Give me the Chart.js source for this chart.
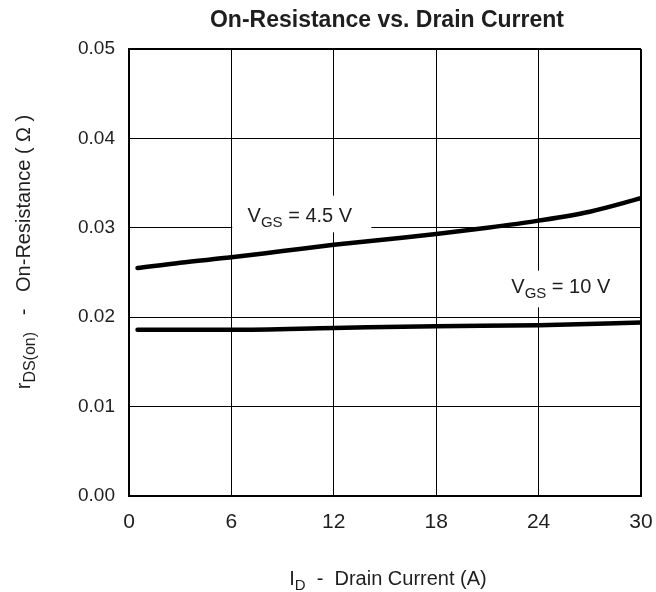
<!DOCTYPE html>
<html>
<head>
<meta charset="utf-8">
<script src="https://cdn.jsdelivr.net/npm/chart.js@4/dist/chart.umd.min.js"></script>
<style>
  html, body { margin: 0; padding: 0; background: #fff; }
  #wrap { width: 656px; height: 592px; }
</style>
</head>
<body>
<div id="wrap"><canvas id="chart" width="656" height="592"></canvas></div>
<script>
//Dados
const drainCurrent45 = [0.5, 3, 6, 9, 12, 15, 18, 21, 24, 27, 30];
const rdsOn45 = [0.0255, 0.0261, 0.0267, 0.0274, 0.0281, 0.0287, 0.0293, 0.0300, 0.0308, 0.0318, 0.0333];

const drainCurrent10 = [0.5, 6, 12, 18, 24, 30];
const rdsOn10 = [0.0186, 0.0186, 0.0188, 0.0190, 0.0191, 0.0194];

const xTicks = [0, 6, 12, 18, 24, 30];
const yTicks = [0.00, 0.01, 0.02, 0.03, 0.04, 0.05];

const FONT = '"Liberation Sans", Arial, Helvetica, sans-serif';
const TXT = '#1e1e1e';

function toPoints(xs, ys) {
    return xs.map((x, i) => ({ x: x, y: ys[i] }));
}

//Texto com subscrito (ex.: V_GS)
function drawSub(c, x, y, main, sub, rest, size, subSize) {
    c.font = size + 'px ' + FONT;
    c.fillText(main, x, y);
    x += c.measureText(main).width;
    c.font = subSize + 'px ' + FONT;
    c.fillText(sub, x, y + size * 0.25);
    x += c.measureText(sub).width;
    c.font = size + 'px ' + FONT;
    c.fillText(rest, x, y);
}

function subWidth(c, main, sub, rest, size, subSize) {
    c.font = size + 'px ' + FONT;
    let w = c.measureText(main).width + c.measureText(rest).width;
    c.font = subSize + 'px ' + FONT;
    return w + c.measureText(sub).width;
}

//Rótulos das curvas: posição do texto e caixa branca (em unidades dos eixos)
const curveLabels = [
    { sub: 'GS', rest: ' = 4.5 V', x: 6.95, y: 0.0306, box: [6.05, 14.2, 0.0295, 0.0336] },
    { sub: 'GS', rest: ' = 10 V', x: 22.4, y: 0.0227, box: [22.0, 28.8, 0.0211, 0.0252] }
];

const textPlugin = {
    id: 'textPlugin',
    beforeDatasetsDraw(chart) {
        const c = chart.ctx, xs = chart.scales.x, ys = chart.scales.y;
        c.save();
        c.fillStyle = '#fff';
        curveLabels.forEach(l => {
            const x0 = xs.getPixelForValue(l.box[0]), x1 = xs.getPixelForValue(l.box[1]);
            const y0 = ys.getPixelForValue(l.box[3]), y1 = ys.getPixelForValue(l.box[2]);
            c.fillRect(x0, y0, x1 - x0, y1 - y0);
        });
        c.restore();
    },
    afterDraw(chart) {
        const c = chart.ctx, a = chart.chartArea, xs = chart.scales.x, ys = chart.scales.y;
        c.save();
        c.fillStyle = TXT;
        c.textBaseline = 'alphabetic';
        c.textAlign = 'left';

        //Título
        c.font = 'bold 23px ' + FONT;
        c.textAlign = 'center';
        c.fillText('On-Resistance vs. Drain Current', (a.left + a.right) / 2 + 2, 27);
        c.textAlign = 'left';

        //Rótulos das curvas
        curveLabels.forEach(l => {
            drawSub(c, xs.getPixelForValue(l.x), ys.getPixelForValue(l.y), 'V', l.sub, l.rest, 20, 15);
        });

        //Título do eixo X
        let w = subWidth(c, 'I', 'D', '  -  Drain Current (A)', 20, 15);
        drawSub(c, (a.left + a.right) / 2 + 3 - w / 2, 585, 'I', 'D', '  -  Drain Current (A)', 20, 15);

        //Título do eixo Y
        c.translate(30, 252);
        c.rotate(-Math.PI / 2);
        w = subWidth(c, 'r', 'DS(on)', '   -   On-Resistance ( \u03A9 )', 20, 16);
        drawSub(c, -w / 2, 0, 'r', 'DS(on)', '   -   On-Resistance ( \u03A9 )', 20, 16);
        c.restore();
    }
};

const edgeWidth = (max) => (ctx) => (ctx.tick && ctx.tick.value === max ? 2 : 1);

let ctx = document.getElementById('chart');

let chart = new Chart(ctx, {
    type: 'scatter',
    data: {
        datasets: [{
            label: 'VGS = 4.5 V',
            data: toPoints(drainCurrent45, rdsOn45),
            showLine: true,
            borderColor: '#000',
            borderWidth: 4.5,
            borderCapStyle: 'round',
            pointRadius: 0,
            cubicInterpolationMode: 'monotone'
        },
        {
            label: 'VGS = 10 V',
            data: toPoints(drainCurrent10, rdsOn10),
            showLine: true,
            borderColor: '#000',
            borderWidth: 4.5,
            borderCapStyle: 'round',
            pointRadius: 0,
            cubicInterpolationMode: 'monotone'
        }]
    },
    options: {
        responsive: false,
        animation: false,
        layout: {
            padding: { left: 0, right: 15, top: 49, bottom: 0 }
        },
        plugins: {
            legend: { display: false },
            title: { display: false },
            tooltip: { enabled: false }
        },
        scales: {
            x: {
                type: 'linear',
                min: xTicks[0],
                max: xTicks[xTicks.length - 1],
                afterBuildTicks: (s) => { s.ticks = xTicks.map(v => ({ value: v })); },
                afterFit: (s) => { s.height = 96; s.paddingLeft = 0; s.paddingRight = 0; },
                grid: { color: '#000', lineWidth: edgeWidth(30), drawTicks: false },
                border: { color: '#000', width: 2 },
                ticks: {
                    padding: 14,
                    color: TXT,
                    font: { family: FONT, size: 21 },
                    callback: (v) => String(v)
                }
            },
            y: {
                type: 'linear',
                min: yTicks[0],
                max: yTicks[yTicks.length - 1],
                afterBuildTicks: (s) => { s.ticks = yTicks.map(v => ({ value: v })); },
                afterFit: (s) => { s.width = 129; s.paddingTop = 0; s.paddingBottom = 0; },
                grid: { color: '#000', lineWidth: edgeWidth(0.05), drawTicks: false },
                border: { color: '#000', width: 2 },
                ticks: {
                    padding: 14,
                    color: TXT,
                    font: { family: FONT, size: 19 },
                    callback: (v) => v.toFixed(2)
                }
            }
        }
    },
    plugins: [textPlugin]
});
</script>
</body>
</html>
